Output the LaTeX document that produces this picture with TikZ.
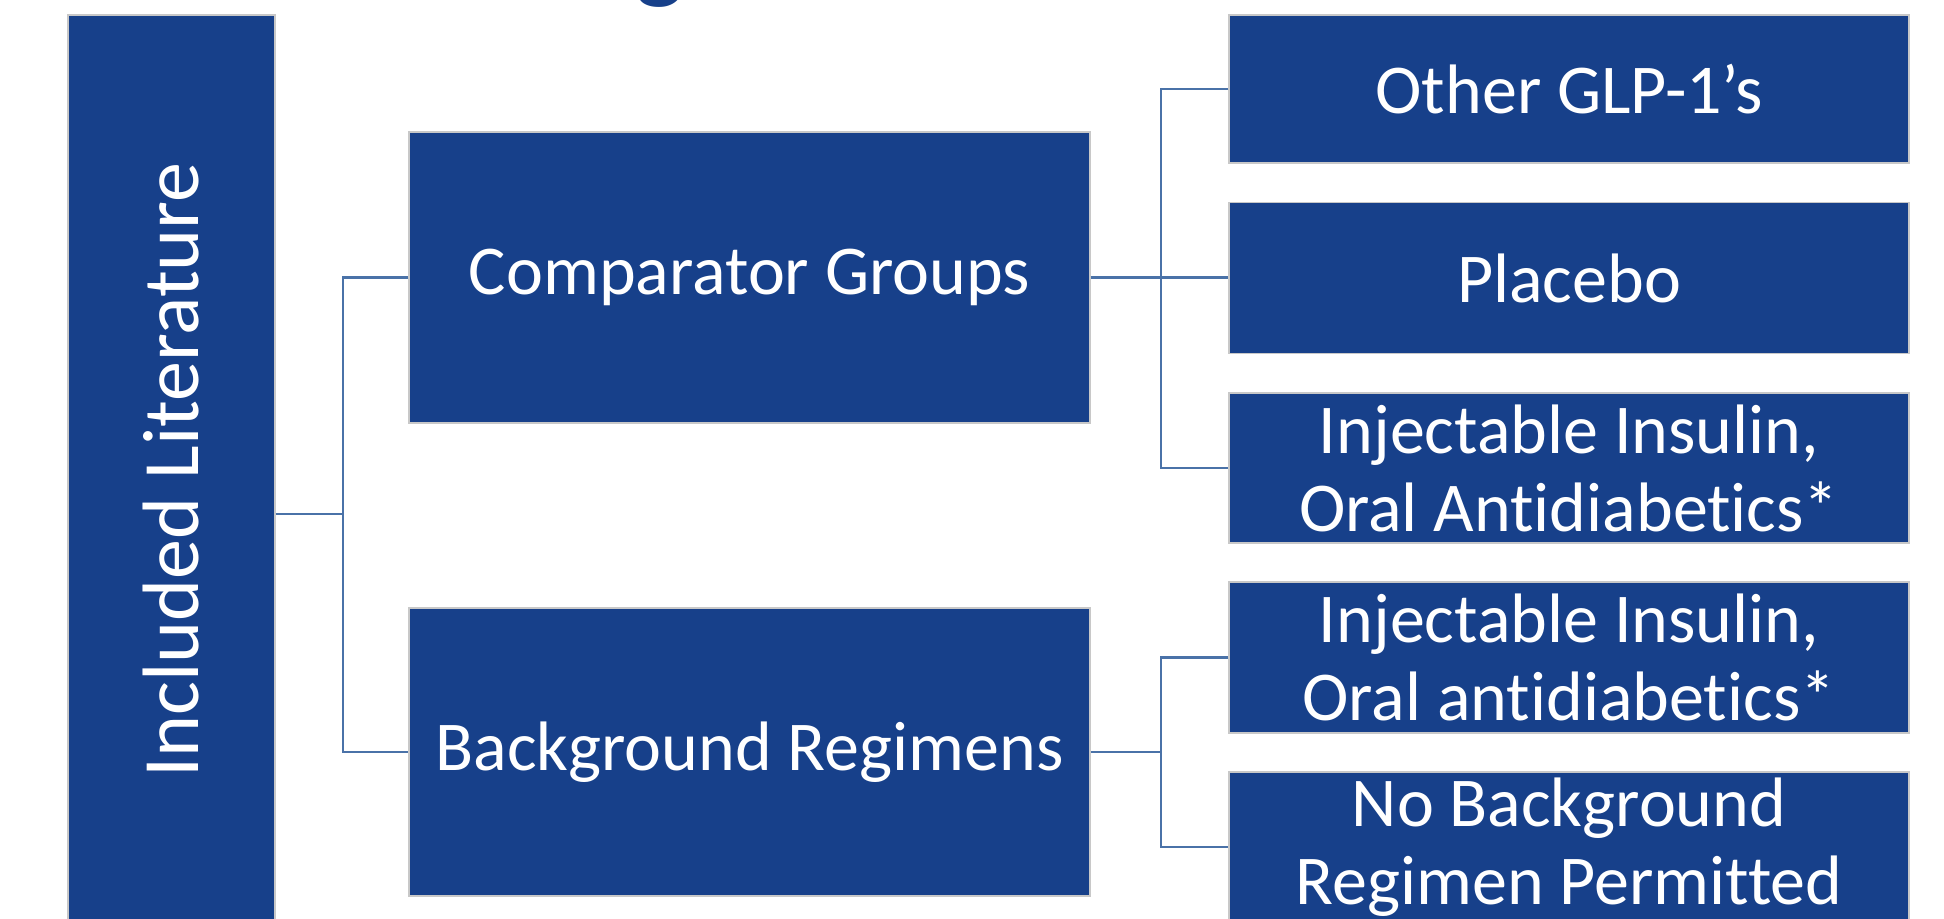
\documentclass[tikz,border=0pt]{standalone}
\usepackage{fontspec}
\setmainfont{Carlito}[Ligatures=NoCommon]
\usepackage{xcolor}

\definecolor{boxblue}{RGB}{23,64,138}
\definecolor{edgegray}{RGB}{200,200,200}
\definecolor{linkblue}{RGB}{74,114,168}

\begin{document}
\begin{tikzpicture}[
    x=0.5pt, y=0.5pt,
    font=\fontsize{35}{39}\selectfont,
    catbox/.style={draw=edgegray, line width=0.6pt, fill=boxblue, text=white,
                   inner sep=0pt, align=center},
    link/.style={draw=linkblue, line width=1.2pt},
]

\useasboundingbox (0,0) rectangle (1944,919);

% Title (cut off at the top)
\node[font=\fontsize{50}{60}\selectfont\bfseries, text=boxblue, anchor=base, inner sep=0pt]
      (title) at (660, 928) {g};

% Root
\node[catbox, rotate=90, minimum width=455pt, minimum height=103.5pt,
      font=\fontsize{40}{48}\selectfont]
      (lit) at (171.5, 449) {Included Literature};

% Middle level
\node[catbox, minimum width=340.5pt, minimum height=145.5pt]
      (comp) at (749.5, 641.5) {Comparator Groups};
\node[catbox, minimum width=340.5pt, minimum height=144pt]
      (back) at (749.5, 167) {Background Regimens};

% Right level
\node[catbox, minimum width=340pt, minimum height=74pt]
      (glp) at (1569, 830) {Other GLP-1’s};
\node[catbox, minimum width=340pt, minimum height=75.5pt]
      (placebo) at (1569, 641) {Placebo};
\node[catbox, minimum width=340pt, minimum height=75pt]
      (injA) at (1569, 451) {Injectable Insulin,\\Oral Antidiabetics*};
\node[catbox, minimum width=340pt, minimum height=75.5pt]
      (injB) at (1569, 261.5) {Injectable Insulin,\\Oral antidiabetics*};
\node[catbox, minimum width=340pt, minimum height=75pt]
      (nobg) at (1569, 72) {No Background\\Regimen Permitted};

% Bus lines
\coordinate (lbus) at (343, 405);
\coordinate (rbus) at (1161, 0);

% Root to middle level
\draw[link] (lit.south |- lbus) -- (lbus);
\draw[link] (comp.west) -- (comp.west -| lbus) -- (back.west -| lbus) -- (back.west);

% Comparator groups
\draw[link] (comp.east) -- (comp.east -| placebo.west);
\draw[link] (glp.west) -- (glp.west -| rbus) -- (injA.west -| rbus) -- (injA.west);

% Background regimens
\draw[link] (back.east) -- (back.east -| rbus);
\draw[link] (injB.west) -- (injB.west -| rbus) -- (nobg.west -| rbus) -- (nobg.west);

\end{tikzpicture}
\end{document}
